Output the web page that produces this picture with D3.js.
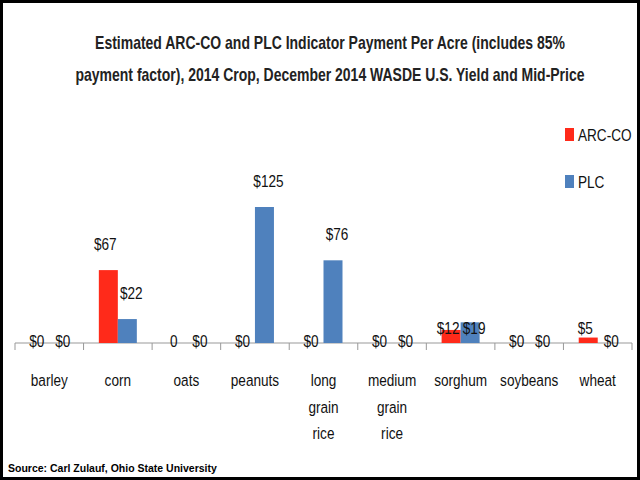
<!DOCTYPE html>
<html><head><meta charset="utf-8">
<script src="https://cdn.jsdelivr.net/npm/d3@7"></script>
<style>body{margin:0;background:#fff}svg{display:block}</style>
</head><body>
<script>
const categories = [["barley"],["corn"],["oats"],["peanuts"],["long","grain","rice"],["medium","grain","rice"],["sorghum"],["soybeans"],["wheat"]];
const arcValues = [0,67,0,0,0,0,12,0,5];
const plcValues = [0,22,0,125,76,0,19,0,0];
const arcLabels = ["$0","$67","0","$0","$0","$0","$12","$0","$5"];
const plcLabels = ["$0","$22","$0","$125","$76","$0","$19","$0","$0"];
const seriesNames = ["ARC-CO","PLC"];
const colors = ["#ff2a1a","#4f81bd"];

const W=640,H=480,SX=0.8;
const svg=d3.select("body").append("svg").attr("width",W).attr("height",H);
svg.append("rect").attr("x",1.5).attr("y",1.5).attr("width",W-3).attr("height",H-3).attr("fill","#fff").attr("stroke","#000").attr("stroke-width",3);
const font="'Liberation Sans',Arial,sans-serif";
function ctext(parent,x,y,str,size,anchor,bold){
  return parent.append("text").attr("transform",`translate(${x},${y}) scale(${SX},1)`)
    .attr("text-anchor",anchor||"middle").attr("font-family",font).attr("font-size",size)
    .attr("font-weight",bold?"bold":"normal").attr("fill","#111").text(str);
}
ctext(svg,330,49,"Estimated ARC-CO and PLC Indicator Payment Per Acre (includes 85%",17.5,"middle",true).attr("fill","#222");
ctext(svg,330,81,"payment factor), 2014 Crop, December 2014 WASDE U.S. Yield and Mid-Price",17.5,"middle",true).attr("fill","#222");

const x=d3.scaleBand().domain(d3.range(categories.length)).range([15,632]);
const y=d3.scaleLinear().domain([0,125]).range([343,207]);
const bw=19;
const g=svg.append("g");
g.append("line").attr("x1",15).attr("x2",632).attr("y1",343).attr("y2",343).attr("stroke","#999");
d3.range(categories.length+1).forEach(i=>{
  const xx=i<categories.length?x(i):632;
  g.append("line").attr("x1",xx).attr("x2",xx).attr("y1",343).attr("y2",350).attr("stroke","#999");
});
[arcValues,plcValues].forEach((vals,s)=>{
  const labs=s?plcLabels:arcLabels;
  vals.forEach((v,i)=>{
    const cx=x(i)+x.bandwidth()/2;
    const bx=s?cx:cx-bw;
    g.append("rect").attr("x",bx).attr("y",y(v)).attr("width",bw).attr("height",343-y(v)).attr("fill",colors[s]);
    const base=v>20?y(v)-20:(v>0?334:347);
    ctext(g,bx+bw/2+(s?4:-3),base,labs[i],17);
  });
});
categories.forEach((lines,i)=>{
  lines.forEach((l,j)=>ctext(g,x(i)+x.bandwidth()/2,386+j*26.5,l,17));
});
seriesNames.forEach((n,s)=>{
  const ly=128+s*47;
  svg.append("rect").attr("x",565).attr("y",ly).attr("width",9).attr("height",13).attr("fill",colors[s]);
  ctext(svg,578,ly+13,n,17,"start");
});
svg.append("text").attr("x",8).attr("y",472).attr("font-family",font).attr("font-weight","bold").attr("font-size",10.5).text("Source: Carl Zulauf, Ohio State University");
</script>
</body></html>
